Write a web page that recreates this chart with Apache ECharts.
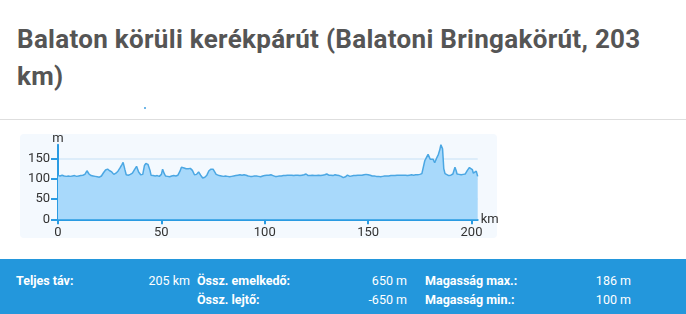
<!DOCTYPE html>
<html><head><meta charset="utf-8">
<script src="https://cdn.jsdelivr.net/npm/echarts@6/dist/echarts.min.js"></script>
<style>
html,body{margin:0;padding:0;width:686px;height:314px;overflow:hidden;background:#fff;font-family:Roboto,"Noto Sans",sans-serif;}
#title{position:absolute;left:17px;top:21px;width:650px;font-size:26px;letter-spacing:0.3px;line-height:37px;font-weight:bold;color:#555;}
#sep{position:absolute;left:0;top:119px;width:686px;height:1px;background:#dedede;}
#dot{position:absolute;left:144px;top:107px;width:2px;height:2px;background:#3f9fe0;border-radius:1px;}
#panel{position:absolute;left:20px;top:134px;width:477px;height:104px;background:#f4f9fe;border-radius:4px;}
#chart{position:absolute;left:20px;top:128px;width:486px;height:115px;}
#bar{position:absolute;left:0;top:259px;width:686px;height:55px;background:#2397dc;color:#fff;font-size:12.5px;}
.t{position:absolute;white-space:nowrap;line-height:16px;}
.b{font-weight:bold;}
</style></head><body>
<div id="title">Balaton körüli kerékpárút (Balatoni Bringakörút, 203 km)</div>
<div id="dot"></div>
<div id="sep"></div>
<div id="panel"></div>
<div id="chart"></div>
<div id="bar">
 <div class="t b" style="left:16px;top:14px">Teljes táv:</div>
 <div class="t" style="right:496px;top:14px">205 km</div>
 <div class="t b" style="left:197px;top:14px">Össz. emelkedő:</div>
 <div class="t b" style="left:197px;top:33px">Össz. lejtő:</div>
 <div class="t" style="right:279px;top:14px">650 m</div>
 <div class="t" style="right:279px;top:33px">-650 m</div>
 <div class="t b" style="left:425px;top:14px">Magasság max.:</div>
 <div class="t b" style="left:425px;top:33px">Magasság min.:</div>
 <div class="t" style="right:55px;top:14px">186 m</div>
 <div class="t" style="right:55px;top:33px">100 m</div>
</div>
<script>
var kmTicks = [0, 50, 100, 150, 200];
var mTicks = [0, 50, 100, 150];
var distanceKm = [0,1,2,3,4,5,6,7,8,9,10,11,12,13,14,15,16,17,18,19,20,21,22,23,24,25,26,27,28,29,30,31,31.5,32.3,33,34,35,36,37,38,39,40,41,41.8,42.5,43.5,44.5,45,46,47,48,49,50,50.6,51.3,52,53,54,55,56,57,58,59,59.7,60.5,61,62,63,64,65,66,67,68,69,70,71,72,73,74,75,75.8,76.5,77,78,79,80,81,82,83,84,85,86,87,88,89,90,91,92,93,94,95,96,97,98,99,100,101,102,103,104,105,106,107,108,109,110,111,112,113,114,115,116,117,118,119,120,121,122,123,124,125,126,127,128,129,130,131,132,133,134,135,136,137,138,139,140,140.5,141.2,142,143,144,145,146,147,148,149,150,151,152,153,154,155,156,157,158,159,160,161,162,163,164,165,166,167,168,169,170,171,172,173,174,175,176,177.4,178,179,180,180.6,181.4,182.2,183,184,184.6,185.2,186,186.6,187.2,187.8,189,190,191,192,192.6,193,194,195,196,197,198,199,199.7,200.4,200.9,201.6,202.3,202.7,203];
var elevationM = [109,108,110,108,107,108,107,108,109,107,108,109,110,112,121,113,109,108,107,106,105,108,116,123,125,121,118,112,115,120,128,137,142,125,111,110,112,115,124,132,118,111,112,134,139,137,122,110,109,108,109,107,112,125,115,108,107,106,108,109,108,110,120,130,127,128,126,126,127,122,111,112,118,110,103,105,110,121,125,125,124,112,108,109,108,107,108,107,106,107,108,109,110,111,110,111,110,108,107,107,108,108,107,106,108,109,110,110,111,109,107,107,108,108,109,109,110,110,110,109,110,110,109,110,111,113,109,109,110,109,109,110,109,110,111,113,110,110,109,111,110,109,107,104,106,110,114,107,107,109,109,110,110,110,111,112,111,110,108,108,107,107,106,107,108,108,108,109,109,109,110,110,110,110,110,109,110,111,110,111,111,112,114,146,152,162,150,146,150,141,151,162,172,186,176,126,114,110,109,110,113,130,121,113,112,111,112,113,122,129,132,124,115,114,120,116,107];
var pts = distanceKm.map(function(k,i){return [k, elevationM[i]];});
var chart = echarts.init(document.getElementById('chart'), null, {renderer:'canvas'});
var axisBlue = '#2a9be2';
chart.setOption({
  animation:false,
  grid:{left:38, right:28.3, top:16.7, bottom:23.7},
  xAxis:{type:'value', min:0, max:203, interval:50, name:'km', nameGap:3,
    nameTextStyle:{color:'#333', fontSize:13, fontFamily:'Roboto', verticalAlign:'middle', padding:[0,0,0,0]},
    axisLine:{show:true, onZero:false, lineStyle:{color:axisBlue, width:2}},
    axisTick:{show:true, length:5, lineStyle:{color:axisBlue, width:2}, customValues:kmTicks},
    axisLabel:{color:'#333', fontSize:13, fontFamily:'Roboto', margin:7, customValues:kmTicks},
    splitLine:{show:false}},
  yAxis:{type:'value', min:0, max:186, interval:50, name:'m', nameGap:-1,
    nameTextStyle:{color:'#333', fontSize:13, fontFamily:'Roboto', align:'center'},
    axisLine:{show:true, lineStyle:{color:axisBlue, width:2}},
    axisTick:{show:true, length:7, lineStyle:{color:axisBlue, width:2}, customValues:mTicks},
    axisLabel:{color:'#333', fontSize:13, fontFamily:'Roboto', margin:8, customValues:mTicks},
    splitLine:{show:true, lineStyle:{color:'#d6e9f8', width:1.5}}},
  series:[{type:'line', data:pts, showSymbol:false, smooth:false,
    lineStyle:{color:'#4ba7e3', width:1.5},
    areaStyle:{color:'#a8d9fb', opacity:1}}]
});
</script>
</body></html>
